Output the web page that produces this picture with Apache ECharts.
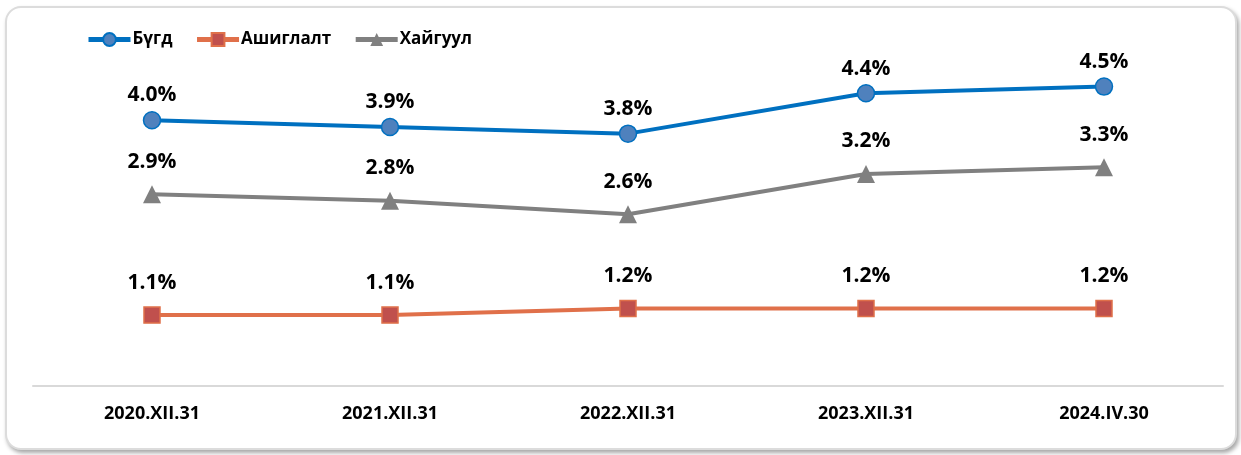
<!DOCTYPE html>
<html>
<head>
<meta charset="utf-8">
<script src="https://cdn.jsdelivr.net/npm/echarts@6/dist/echarts.min.js"></script>
<style>
  html, body { margin: 0; padding: 0; background: #fff; }
  .frame {
    position: absolute; left: 5px; top: 6px; width: 1228px; height: 440px;
    border: 2px solid #dcdcdc; border-radius: 16px;
    box-shadow: 2px 3px 4px rgba(0,0,0,0.35);
    background: #fff;
  }
  #main { position: absolute; left: 0; top: 0; width: 1241px; height: 455px; }
</style>
</head>
<body>
<div class="frame"></div>
<div id="main"></div>
<script>
// өгөгдөл
var categories = ['2020.XII.31', '2021.XII.31', '2022.XII.31', '2023.XII.31', '2024.IV.30']
var total = [4.0, 3.9, 3.8, 4.4, 4.5]
var mining = [1.1, 1.1, 1.2, 1.2, 1.2]
var explore = [2.9, 2.8, 2.6, 3.2, 3.3]

var myChart = echarts.init(document.getElementById('main'))
var font = "'Open Sans', 'DejaVu Sans', sans-serif"

function pct(p) {
  return p.value.toFixed(1) + '%'
}

var labelStyle = { color: '#000', fontWeight: 'bold', fontSize: 21, fontFamily: font }

var option = {
  backgroundColor: 'transparent',
  textStyle: { fontFamily: font },
  legend: {
    left: 81,
    top: 26,
    itemWidth: 42,
    itemHeight: 16,
    itemGap: 22,
    lineStyle: { width: 5 },
    textStyle: { fontSize: 17, fontWeight: 'bold', color: '#000', fontFamily: font, padding: [0, 0, 0, -3] },
    data: ['Бүгд', 'Ашиглалт', 'Хайгуул']
  },
  grid: { left: 33, right: 18, top: 53, bottom: 69 },
  xAxis: {
    type: 'category',
    data: categories,
    axisLine: { lineStyle: { color: '#d9d9d9', width: 2 } },
    axisTick: { show: false },
    axisLabel: { color: '#000', fontWeight: 'bold', fontSize: 18, margin: 19, fontFamily: font }
  },
  yAxis: {
    type: 'value',
    min: 0.045,
    max: 5,
    show: false,
    splitLine: { show: false }
  },
  series: [
    {
      name: 'Бүгд',
      type: 'line',
      data: total,
      symbol: 'circle',
      symbolSize: 17,
      lineStyle: { color: '#0070C0', width: 4 },
      itemStyle: { color: '#4F81BD', borderColor: '#0070C0', borderWidth: 1.5 },
      label: Object.assign({ show: true, position: 'top', distance: 5, formatter: pct }, labelStyle)
    },
    {
      name: 'Ашиглалт',
      type: 'line',
      data: mining,
      symbol: 'rect',
      symbolSize: 16,
      lineStyle: { color: '#E0704A', width: 4 },
      itemStyle: { color: '#C0504D', borderColor: '#E0704A', borderWidth: 1.5 },
      label: Object.assign({ show: true, position: 'top', distance: 13, formatter: pct }, labelStyle)
    },
    {
      name: 'Хайгуул',
      type: 'line',
      data: explore,
      symbol: 'triangle',
      symbolSize: 18,
      lineStyle: { color: '#808080', width: 4 },
      itemStyle: { color: '#808080' },
      label: Object.assign({ show: true, position: 'top', distance: 13, formatter: pct }, labelStyle)
    }
  ]
}

myChart.setOption(option)
</script>
</body>
</html>
